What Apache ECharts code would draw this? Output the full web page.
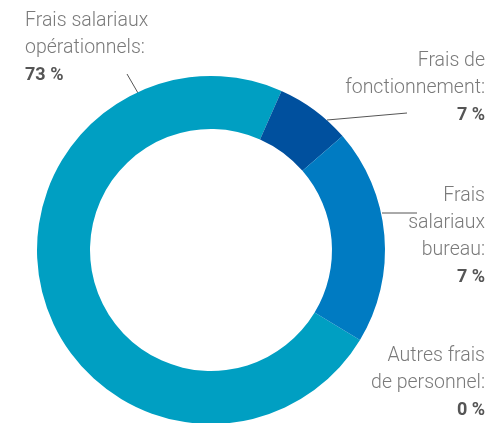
<!DOCTYPE html>
<html>
<head>
<meta charset="utf-8">
<script src="https://cdn.jsdelivr.net/npm/echarts@6/dist/echarts.min.js"></script>
<style>
html,body{margin:0;padding:0;background:#fff;}
#chart{width:493px;height:423px;}
</style>
</head>
<body>
<div id="chart"></div>
<script>
// data (slice sizes) and the printed labels
var categories=["Frais salariaux\nopérationnels:","Frais de\nfonctionnement:","Frais\nsalariaux\nbureau:","Autres frais\nde personnel:"];
var values=[73,7,20,0];
var pctLabels=["73 %","7 %","7 %","0 %"];
var colors=["#009fc2","#00509e","#007bc2","#009fc2"];

// label placement: [x, y, align, line points]
var labelPos=[
    [25,8,"left",[[138,93],[127,74]]],
    [485,48,"right",[[327,120],[407,113]]],
    [485,183,"right",[[382,213],[417,213]]],
    [485,343,"right",null]
];

var chart=echarts.init(document.getElementById("chart"));
var seriesData=[];
for(var i=0;i<values.length;i++){
    seriesData.push({
        name:categories[i],
        value:values[i],
        itemStyle:{color:colors[i]},
        labelLine:{show:labelPos[i][3]!==null}
    });
}
chart.setOption({
    animation:false,
    series:[{
        type:"pie",
        center:[211,250],
        radius:[121,174],
        startAngle:-31.1,
        clockwise:true,
        avoidLabelOverlap:false,
        data:seriesData,
        label:{
            show:true,
            position:"outside",
            formatter:function(p){
                return "{n|"+p.name+"}\n{v|"+pctLabels[p.dataIndex]+"}";
            },
            rich:{
                n:{fontFamily:"Roboto",fontWeight:300,fontSize:19.5,color:"#7a7a7a",lineHeight:27},
                v:{fontFamily:"Roboto",fontWeight:"bold",fontSize:18,color:"#555555",lineHeight:27}
            }
        },
        labelLine:{lineStyle:{color:"#555",width:1}},
        labelLayout:function(p){
            var lp=labelPos[p.dataIndex];
            var res={x:lp[0],y:lp[1],align:lp[2],verticalAlign:"top"};
            if(lp[3]) res.labelLinePoints=lp[3];
            return res;
        },
        emphasis:{disabled:true}
    }]
});
</script>
</body>
</html>
